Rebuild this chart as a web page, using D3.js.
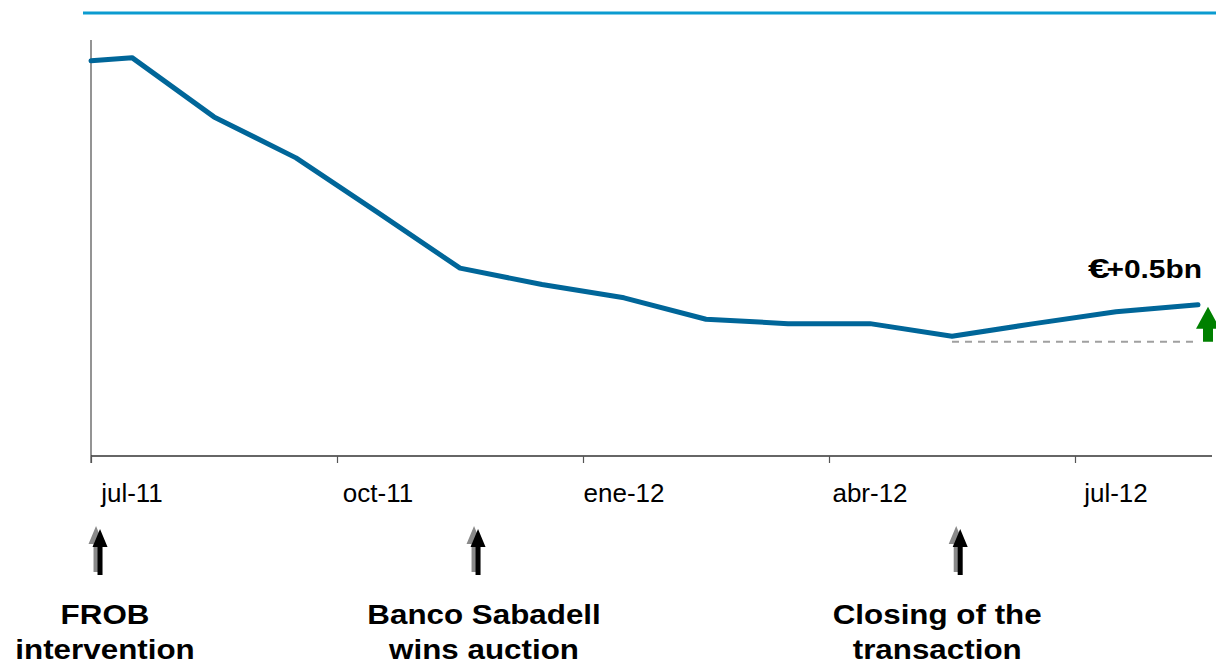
<!DOCTYPE html>
<html>
<head>
<meta charset="utf-8">
<script src="https://cdn.jsdelivr.net/npm/d3@7"></script>
<style>
  html, body { margin: 0; padding: 0; background: #fff; }
  svg { display: block; }
  text { font-family: "Liberation Sans", Arial, sans-serif; }
</style>
</head>
<body>
<svg id="chart" width="1216" height="665"></svg>
<script>
// Monthly series, € bn (month index 0 = jul-11; first reading mid-July)
const monthIndex = [-0.5, 0, 1, 2, 3, 4, 5, 6, 7, 8, 9, 10, 11, 12, 13];
const deposits   = [6.27, 6.32, 5.38, 4.73, 3.86, 2.98, 2.72, 2.51, 2.17, 2.10, 2.10, 1.90, 2.10, 2.29, 2.40];

// Axis tick labels (quarterly) and their month index
const tickLabels = ["jul-11", "oct-11", "ene-12", "abr-12", "jul-12"];
const tickIndex  = [0, 3, 6, 9, 12];

// Key events on the same month index scale
const eventNames = [["FROB", "intervention"], ["Banco Sabadell", "wins auction"], ["Closing of the", "transaction"]];
const eventIndex = [-0.39, 4.22, 10.1];

const changeLabel = "+0.5bn";

const svg = d3.select("#chart");

const x = d3.scaleLinear().domain([-0.5, 13.5]).range([91, 1239]);
const y = d3.scaleLinear().domain([0, 6.6]).range([456, 40]);

// top rule
svg.append("line")
  .attr("x1", 83).attr("x2", 1216).attr("y1", 13).attr("y2", 13)
  .attr("stroke", "#0b9bd0").attr("stroke-width", 3);

// y axis (no labels)
svg.append("line")
  .attr("x1", x(-0.5)).attr("x2", x(-0.5)).attr("y1", 40).attr("y2", 463)
  .attr("stroke", "#707070").attr("stroke-width", 1.5);

// x axis with ticks at quarter boundaries
const xAxis = d3.axisBottom(x)
  .tickValues(tickIndex.map(d => d - 0.5))
  .tickSize(7)
  .tickSizeOuter(0)
  .tickFormat("");
const gx = svg.append("g").attr("transform", `translate(0,${y(0)})`).call(xAxis);
gx.select(".domain").attr("stroke", "#333").attr("stroke-width", 1.5)
  .attr("d", `M${x(-0.5)},0H1212`);
gx.selectAll(".tick line").attr("stroke", "#555").attr("stroke-width", 1.2);

// month labels centred on their data points
svg.append("g").selectAll("text")
  .data(tickLabels)
  .join("text")
  .attr("x", (d, i) => x(tickIndex[i]))
  .attr("y", 502)
  .attr("text-anchor", "middle")
  .attr("font-size", 26)
  .attr("fill", "#000")
  .text(d => d);

// series line
const pts = monthIndex.map((m, i) => [m, deposits[i]]);
svg.append("path")
  .datum(pts)
  .attr("fill", "none")
  .attr("stroke", "#006699")
  .attr("stroke-width", 5)
  .attr("stroke-linejoin", "round")
  .attr("stroke-linecap", "round")
  .attr("d", d3.line().x(d => x(d[0])).y(d => y(d[1])));

// change since closing: dashed reference at the minimum, green arrow to the last value
const minI = deposits.indexOf(d3.min(deposits));
const last = deposits.length - 1;
const refY = y(deposits[minI]) + 5.5;
svg.append("line")
  .attr("x1", x(monthIndex[minI])).attr("x2", x(monthIndex[last]))
  .attr("y1", refY).attr("y2", refY)
  .attr("stroke", "#a0a0a0").attr("stroke-width", 2)
  .attr("stroke-dasharray", "7,6");

const gaX = x(monthIndex[last]) + 10;
const tipY = y(deposits[last]) + 2;
svg.append("path")
  .attr("fill", "#008000")
  .attr("d", `M${gaX},${tipY} L${gaX + 12},${tipY + 22} L${gaX + 5},${tipY + 22} L${gaX + 5},${refY} L${gaX - 5},${refY} L${gaX - 5},${tipY + 22} L${gaX - 12},${tipY + 22} Z`);

const lbl = svg.append("g").attr("font-weight", "bold").attr("font-size", 26).attr("fill", "#000");
lbl.append("text").attr("x", 0).attr("y", 278)
  .attr("font-size", 27)
  .attr("transform", "translate(1088,0) scale(1.45,1)")
  .text("€");
lbl.append("text").attr("x", 1202).attr("y", 278).attr("text-anchor", "end")
  .attr("transform", "translate(1202,0) scale(1.15,1) translate(-1202,0)")
  .text(changeLabel);

// event arrows (black with grey shadow) and captions
const arrowPath = (cx, top) =>
  `M${cx},${top} L${cx + 7.5},${top + 18} L${cx + 2.5},${top + 18} L${cx + 2.5},${top + 46} L${cx - 2.5},${top + 46} L${cx - 2.5},${top + 18} L${cx - 7.5},${top + 18} Z`;

const labelShift = [5, 6, -23];
eventIndex.forEach((m, i) => {
  const cx = x(m);
  svg.append("path").attr("d", arrowPath(cx - 4, 526)).attr("fill", "#8a8a8a");
  svg.append("path").attr("d", arrowPath(cx, 529)).attr("fill", "#000");
  const lx = cx + labelShift[i];
  const t = svg.append("text")
    .attr("text-anchor", "middle")
    .attr("font-weight", "bold")
    .attr("font-size", 28)
    .attr("transform", `translate(${lx},0) scale(1.12,1)`);
  eventNames[i].forEach((line, k) => {
    t.append("tspan").attr("x", 0).attr("y", 624 + k * 35).text(line);
  });
});
</script>
</body>
</html>
